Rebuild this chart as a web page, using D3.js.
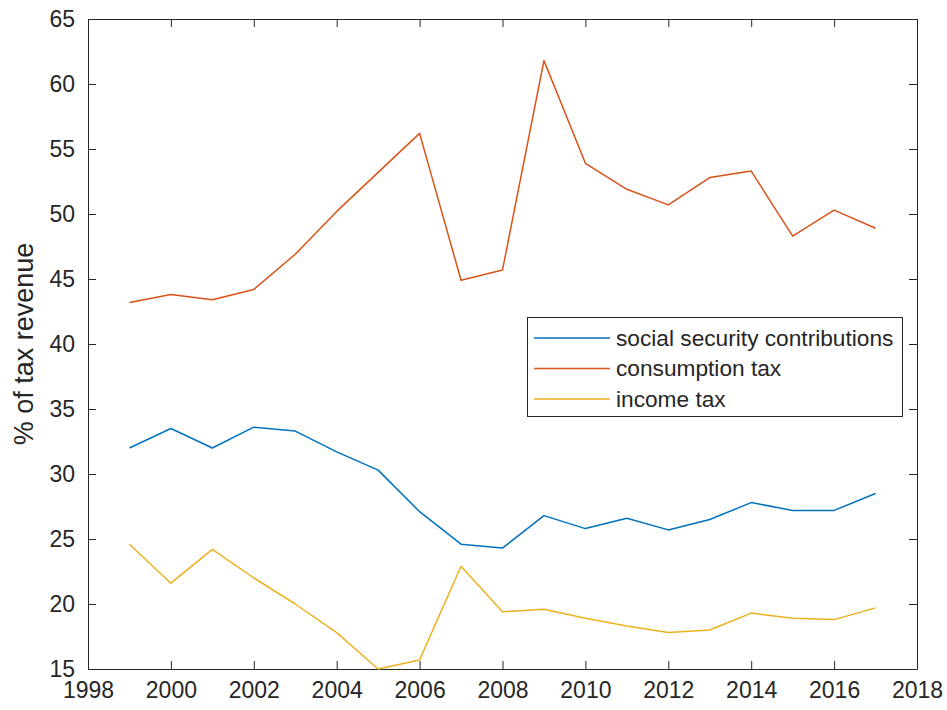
<!DOCTYPE html>
<html lang="en">
<head>
    <meta charset="UTF-8">
    <title>Tax revenue shares</title>
    <style>
        body { margin: 0; background: #fff; overflow: hidden; }
        text { font-family: 'Liberation Sans', Arial, Helvetica, sans-serif; fill: #262626; }
        .axis path, .axis line { stroke: #262626; stroke-width: 1px; }
        .series { fill: none; stroke-width: 1.5px; stroke-linejoin: round; }
    </style>
</head>
<body>
    <svg id="chart" width="947" height="710"></svg>
    <script src="https://d3js.org/d3.v7.min.js"></script>
    <script>
        // values
        const years = [1999, 2000, 2001, 2002, 2003, 2004, 2005, 2006, 2007, 2008,
                       2009, 2010, 2011, 2012, 2013, 2014, 2015, 2016, 2017];
        const socialSecurity = [32.0, 33.5, 32.0, 33.6, 33.3, 31.7, 30.3, 27.1, 24.6, 24.3,
                                26.8, 25.8, 26.6, 25.7, 26.5, 27.8, 27.2, 27.2, 28.5];
        const consumptionTax = [43.2, 43.8, 43.4, 44.2, 46.9, 50.2, 53.2, 56.2, 44.9, 45.7,
                                61.8, 53.9, 51.9, 50.7, 52.8, 53.3, 48.3, 50.3, 48.9];
        const incomeTax = [24.6, 21.6, 24.2, 22.0, 20.0, 17.8, 15.0, 15.7, 22.9, 19.4,
                           19.6, 18.9, 18.3, 17.8, 18.0, 19.3, 18.9, 18.8, 19.7];
        const seriesNames = ["social security contributions", "consumption tax", "income tax"];
        const seriesColors = ["#0072BD", "#D95319", "#EDB120"];
        const xTicks = d3.range(1998, 2019, 2);
        const yTicks = d3.range(15, 66, 5);

        const svg = d3.select("#chart");
        const plot = { left: 88, right: 917, top: 19, bottom: 669 };

        const x = d3.scaleLinear().domain([1998, 2018]).range([plot.left, plot.right]);
        const y = d3.scaleLinear().domain([15, 65]).range([plot.bottom, plot.top]);

        // box with inward ticks on all four sides
        svg.append("g").attr("class", "axis")
            .attr("transform", `translate(0,${plot.bottom})`)
            .call(d3.axisBottom(x).tickValues(xTicks).tickFormat(d3.format("d"))
                .tickSizeInner(-8).tickSizeOuter(0).tickPadding(13))
            .call(g => g.selectAll("text").style("font-size", "23px"));

        svg.append("g").attr("class", "axis")
            .attr("transform", `translate(0,${plot.top})`)
            .call(d3.axisTop(x).tickValues(xTicks).tickFormat("")
                .tickSizeInner(-8).tickSizeOuter(0));

        svg.append("g").attr("class", "axis")
            .attr("transform", `translate(${plot.left},0)`)
            .call(d3.axisLeft(y).tickValues(yTicks).tickFormat(d3.format("d"))
                .tickSizeInner(-8).tickSizeOuter(0).tickPadding(13))
            .call(g => g.selectAll("text").style("font-size", "23px"));

        svg.append("g").attr("class", "axis")
            .attr("transform", `translate(${plot.right},0)`)
            .call(d3.axisRight(y).tickValues(yTicks).tickFormat("")
                .tickSizeInner(-8).tickSizeOuter(0));

        svg.selectAll(".axis .domain").attr("fill", "none");

        // y label
        svg.append("text")
            .attr("transform", `translate(33,${(plot.top + plot.bottom) / 2}) rotate(-90)`)
            .attr("text-anchor", "middle")
            .style("font-size", "27px")
            .text("% of tax revenue");

        // lines
        const line = d3.line()
            .x((d, i) => x(years[i]))
            .y(d => y(d));

        [socialSecurity, consumptionTax, incomeTax].forEach((vals, k) => {
            svg.append("path")
                .datum(vals)
                .attr("class", "series")
                .attr("stroke", seriesColors[k])
                .attr("d", line);
        });

        // legend
        const legend = svg.append("g").attr("transform", "translate(527,317)");
        legend.append("rect")
            .attr("x", 0.5).attr("y", 0.5)
            .attr("width", 375).attr("height", 99)
            .attr("fill", "#fff")
            .attr("stroke", "#262626")
            .attr("stroke-width", 1);

        seriesNames.forEach((name, k) => {
            const cy = 21 + k * 30.5;
            legend.append("line")
                .attr("x1", 7).attr("x2", 83)
                .attr("y1", cy).attr("y2", cy)
                .attr("stroke", seriesColors[k])
                .attr("stroke-width", 1.5);
            legend.append("text")
                .attr("x", 89).attr("y", cy)
                .attr("dy", "0.35em")
                .style("font-size", "22.7px")
                .text(name);
        });
    </script>
</body>
</html>
